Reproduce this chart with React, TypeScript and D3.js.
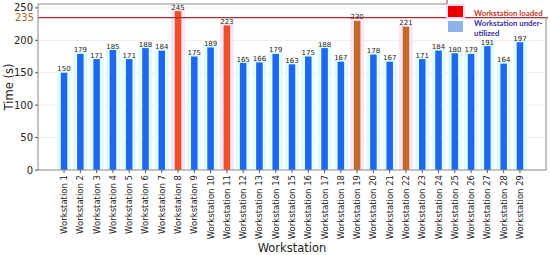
import React from "react";
import * as d3 from "d3";

const categories = Array.from({ length: 29 }, (_, i) => `Workstation ${i + 1}`);
const times = [150, 179, 171, 185, 171, 188, 184, 245, 175, 189, 223, 165, 166, 179, 163, 175, 188, 167, 230, 178, 167, 221, 171, 184, 180, 179, 191, 164, 197];
// bar type: "n" normal, "r" loaded (red), "b" loaded (brown)
const barTypes = ["n","n","n","n","n","n","n","r","n","n","r","n","n","n","n","n","n","n","b","n","n","b","n","n","n","n","n","n","n"];
const yTicks = [0, 50, 100, 150, 200, 250];
const threshold = 235;

const W = 550, H = 255;
const left = 38, right = 546, top = 4, bottom = 170;

export default function App() {
  const x = d3.scaleBand<string>().domain(categories).range([left, right]).paddingInner(0.6).paddingOuter(1.4);
  const y = d3.scaleLinear().domain([0, 256]).range([bottom, top]);
  const bw = x.bandwidth();
  const colorOf = (t: string) => (t === "r" ? "#e8502f" : t === "b" ? "#bd6a2c" : "#2167e6");
  const bgOf = (t: string) => (t === "n" ? "#defcfc" : "#ffe4f2");
  const font = "DejaVu Sans, sans-serif";
  const lfont = "Lato, Liberation Sans, sans-serif";
  return (
    <svg width={W} height={H} style={{ position: "absolute", left: 0, top: 0, background: "#fff" }}>
      {/* gridlines */}
      {yTicks.filter((t) => t > 0).map((t) => (
        <line key={"g" + t} x1={left} x2={right} y1={y(t)} y2={y(t)} stroke="#ececec" strokeWidth={1} />
      ))}
      {/* background halos */}
      {categories.map((c, i) => (
        <rect key={"bg" + c} x={x(c)! + bw / 2 - 7} y={y(times[i]) - 2} width={14} height={bottom - y(times[i]) + 2} fill={bgOf(barTypes[i])} />
      ))}
      {/* bars */}
      {categories.map((c, i) => (
        <rect key={"b" + c} x={x(c)!} y={y(times[i])} width={bw} height={bottom - y(times[i])} fill={colorOf(barTypes[i])} />
      ))}
      {/* value labels */}
      {categories.map((c, i) => (
        <text key={"v" + c} x={x(c)! + bw / 2} y={y(times[i]) - 1.5} fontSize={7} fontFamily={font} textAnchor="middle" fill="#222">
          {times[i]}
        </text>
      ))}
      {/* threshold line */}
      <line x1={left} x2={right + 2} y1={y(threshold)} y2={y(threshold)} stroke="#a8302a" strokeWidth={1.2} />
      <text x={left - 4} y={y(threshold) + 3.5} fontSize={10} fontFamily={font} textAnchor="end" fill="#b5652e">{threshold}</text>
      {/* spines */}
      <rect x={left} y={top} width={right - left} height={bottom - top} fill="none" stroke="#8a8a8a" strokeWidth={1} />
      {/* y ticks */}
      {yTicks.map((t) => (
        <g key={"yt" + t}>
          <line x1={left - 3} x2={left} y1={y(t)} y2={y(t)} stroke="#555" />
          <text x={left - 5} y={y(t) + 3.5} fontSize={10} fontFamily={font} textAnchor="end" fill="#222">{t}</text>
        </g>
      ))}
      {/* x ticks */}
      {categories.map((c) => {
        const cx = x(c)! + bw / 2;
        return (
          <g key={"xt" + c}>
            <line x1={cx} x2={cx} y1={bottom} y2={bottom + 3} stroke="#555" />
            <text transform={`translate(${cx + 3},${bottom + 5}) rotate(-90)`} fontSize={8.5} fontFamily={font} textAnchor="end" fill="#222">{c}</text>
          </g>
        );
      })}
      <text x={(left + right) / 2} y={252} fontSize={11.5} fontFamily={font} textAnchor="middle" fill="#222">Workstation</text>
      <text transform={`translate(13,${(top + bottom) / 2}) rotate(-90)`} fontSize={11.5} fontFamily={font} textAnchor="middle" fill="#222">Time (s)</text>
      {/* legend */}
      <rect x={447} y={0} width={103} height={y(threshold) - 0.6} fill="#fff" />
      <line x1={447} x2={447} y1={0} y2={y(threshold)} stroke="#a8302a" strokeWidth={1} />
      <rect x={446} y={4} width={19} height={15} fill="#ffd6ee" />
      <rect x={448} y={6} width={15} height={11} fill="#e60000" />
      <rect x={448} y={21} width={15} height={11} fill="#8fb3e6" />
      <text x={474} y={15.5} fontSize={7.8} fontWeight="bold" fontFamily={lfont} fill="#c0392b">Workstation loaded</text>
      <text x={474} y={26} fontSize={7.8} fontWeight="bold" fontFamily={lfont} fill="#3a2fa0">Workstation under-</text>
      <text x={474} y={36} fontSize={7.8} fontWeight="bold" fontFamily={lfont} fill="#3a2fa0">utilized</text>
    </svg>
  );
}
